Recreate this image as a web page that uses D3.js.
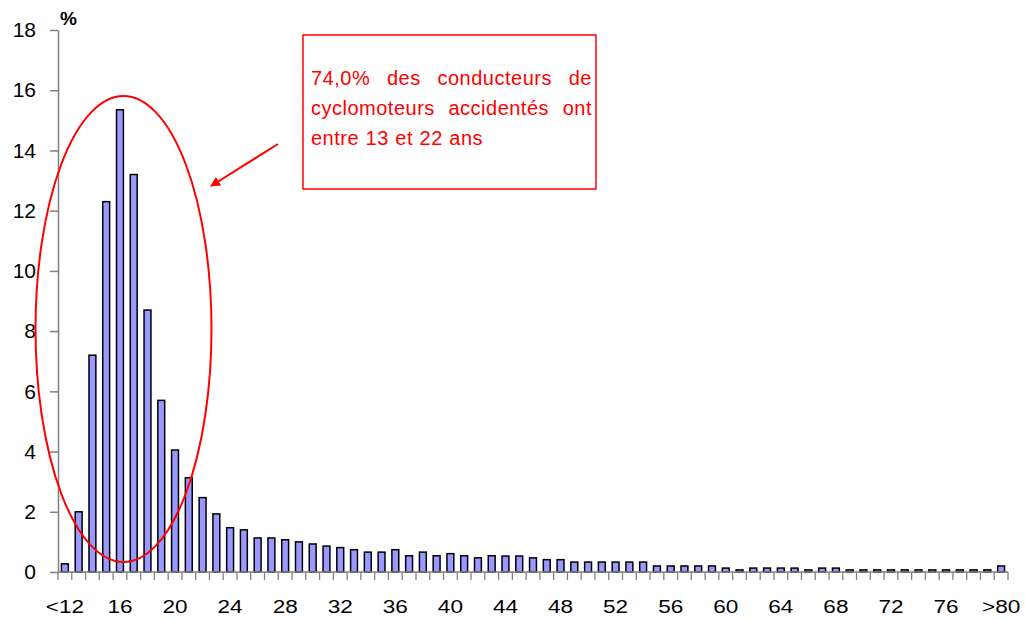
<!DOCTYPE html>
<html><head><meta charset="utf-8">
<script src="https://cdn.jsdelivr.net/npm/d3@7"></script>
<style>body{margin:0;background:#fff}svg{display:block}</style>
</head><body>
<svg id="c" width="1025" height="620"></svg>
<script>
const categories = ["<12"].concat(d3.range(13, 80).map(String)).concat([">80"]);
const values = [
  0.27, 2.0, 7.2, 12.3, 15.35, 13.2, 8.7, 5.7, 4.05, 3.13,   // <12..21
  2.47, 1.93, 1.47, 1.40, 1.13, 1.13, 1.07, 1.0, 0.93, 0.86, // 22..31
  0.81, 0.74, 0.66, 0.66, 0.74, 0.54, 0.66, 0.54, 0.61, 0.54, // 32..41
  0.47, 0.54, 0.53, 0.53, 0.47, 0.41, 0.41, 0.33, 0.33, 0.33, // 42..51
  0.33, 0.33, 0.33, 0.2, 0.2, 0.2, 0.2, 0.2, 0.13, 0.07,      // 52..61
  0.13, 0.13, 0.13, 0.13, 0.07, 0.13, 0.13, 0.07, 0.07, 0.07, // 62..71
  0.07, 0.07, 0.07, 0.07, 0.07, 0.07, 0.07, 0.07, 0.2         // 72..>80
];
const xTickLabels = ["<12","16","20","24","28","32","36","40","44","48","52","56","60","64","68","72","76",">80"];
const yTicks = [0,2,4,6,8,10,12,14,16,18];
const yUnit = "%";
const noteLines = ["74,0% des conducteurs de", "cyclomoteurs accidentés ont", "entre 13 et 22 ans"];

const svg = d3.select("#c");
const font = "'Liberation Sans', Arial, sans-serif";
const x = d3.scaleBand().domain(categories).range([58, 1008]).paddingInner(0.5).paddingOuter(0.25);
const y = d3.scaleLinear().domain([0, 18]).range([572, 30]);
const gray = "#808080";

// bars
svg.append("g").selectAll("rect").data(categories).join("rect")
  .attr("x", (d) => x(d))
  .attr("y", (d, i) => y(values[i]))
  .attr("width", x.bandwidth())
  .attr("height", (d, i) => y(0) - y(values[i]))
  .attr("fill", "#9999ff").attr("stroke", "#000").attr("stroke-width", 1.5);

// y axis
const yAxis = svg.append("g").attr("transform", "translate(58,0)")
  .call(d3.axisLeft(y).tickValues(yTicks).tickSize(8).tickSizeOuter(0).tickPadding(14));
yAxis.select(".domain").attr("stroke", gray).attr("stroke-width", 1.5);
yAxis.selectAll(".tick line").attr("stroke", gray).attr("stroke-width", 1.5);
yAxis.selectAll(".tick text").attr("font-family", font).attr("font-size", 21).attr("fill", "#000");

// x axis labels
const xAxis = svg.append("g").attr("transform", "translate(0,572)")
  .call(d3.axisBottom(x).tickValues(xTickLabels).tickSize(0).tickPadding(28));
xAxis.select(".domain").remove();
xAxis.selectAll(".tick text").attr("font-family", font).attr("font-size", 18.5).attr("fill", "#000")
  .attr("transform", "scale(1.22,1)");
// x axis line and boundary ticks
const step = x.step();
const bounds = categories.map(c => x(c) - (step - x.bandwidth()) / 2).concat([x.range()[1]]);
svg.append("line").attr("x1", 58).attr("x2", 1008).attr("y1", y(0)).attr("y2", y(0))
  .attr("stroke", gray).attr("stroke-width", 1.5);
svg.append("g").selectAll("line").data(bounds).join("line")
  .attr("x1", d => d).attr("x2", d => d).attr("y1", y(0)).attr("y2", y(0) + 8)
  .attr("stroke", gray).attr("stroke-width", 1.3);

// unit
svg.append("text").attr("x", 60).attr("y", 25).attr("font-family", font).attr("font-weight", "bold")
  .attr("font-size", 19).text(yUnit);

// ellipse annotation
const red = "#ff0000";
svg.append("ellipse").attr("cx", 123.5).attr("cy", 329).attr("rx", 88).attr("ry", 233)
  .attr("fill", "none").attr("stroke", red).attr("stroke-width", 2);

// box
svg.append("rect").attr("x", 303).attr("y", 35).attr("width", 293).attr("height", 154)
  .attr("fill", "#fff").attr("stroke", red).attr("stroke-width", 1.5);
const left = 311, right = 592;
noteLines.forEach((line, li) => {
  const by = 85 + li * 30;
  const words = line.split(" ");
  const g = svg.append("g");
  const ts = words.map(w => g.append("text").attr("font-family", font).attr("font-size", 20)
    .attr("letter-spacing", 0.5).attr("fill", red).attr("y", by).text(w));
  const widths = ts.map(t => t.node().getComputedTextLength());
  const total = d3.sum(widths);
  let gap;
  if (li < noteLines.length - 1) gap = (right - left - total) / (words.length - 1);
  else gap = 6.5;
  let cx = left;
  ts.forEach((t, i) => { t.attr("x", cx); cx += widths[i] + gap; });
});

// arrow
svg.append("defs").append("marker").attr("id", "ah").attr("viewBox", "0 0 10 10")
  .attr("refX", 9).attr("refY", 5).attr("markerWidth", 5).attr("markerHeight", 5)
  .attr("orient", "auto").append("path").attr("d", "M0,0L10,5L0,10Z").attr("fill", red);
svg.append("line").attr("x1", 278).attr("y1", 144).attr("x2", 211).attr("y2", 186)
  .attr("stroke", red).attr("stroke-width", 2).attr("marker-end", "url(#ah)");
</script>
</body></html>
